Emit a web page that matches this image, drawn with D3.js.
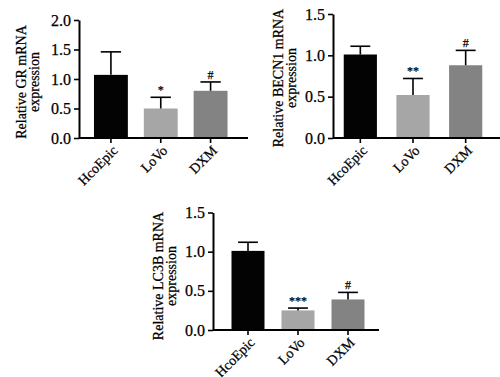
<!DOCTYPE html>
<html>
<head>
<meta charset="utf-8">
<script src="https://cdn.jsdelivr.net/npm/d3@7"></script>
<style>
  body { margin: 0; background: #fff; }
  svg { display: block; }
  text { font-family: 'Liberation Serif', 'Times New Roman', serif; fill: #000; stroke: #000; stroke-width: 0.25px; }
</style>
</head>
<body>
<svg id="chart" width="500" height="377"></svg>
<script>
const groups = ['HcoEpic', 'LoVo', 'DXM']
const barColors = ['#030303', '#a6a6a6', '#838383']

const grMean = [1.07, 0.50, 0.80]
const grErr = [0.39, 0.19, 0.15]
const grMarks = ['', '*', '#']
const grTicks = [0, 0.5, 1.0, 1.5, 2.0]

const becn1Mean = [1.01, 0.52, 0.88]
const becn1Err = [0.10, 0.20, 0.18]
const becn1Marks = ['', '**', '#']
const becn1Ticks = [0, 0.5, 1.0, 1.5]

const lc3bMean = [1.01, 0.25, 0.39]
const lc3bErr = [0.11, 0.03, 0.09]
const lc3bMarks = ['', '***', '#']
const lc3bTicks = [0, 0.5, 1.0, 1.5]

const svg = d3.select('#chart')

function panel (gene, mean, err, marks, ticks, layout) {
  const g = svg.append('g')
  const yScale = d3.scaleLinear().domain([0, d3.max(ticks)]).range([layout.base, layout.top])
  const xScale = d3.scaleBand().domain(groups).range(layout.band)
    .paddingInner(layout.pad).paddingOuter(layout.pad / 2)

  const bw = xScale.bandwidth()
  const data = groups.map((k, i) => ({ k, v: mean[i], e: err[i], m: marks[i], c: barColors[i] }))

  // bars
  g.selectAll('rect.bar').data(data).join('rect').attr('class', 'bar')
    .attr('x', d => xScale(d.k)).attr('width', bw)
    .attr('y', d => yScale(d.v)).attr('height', d => yScale(0) - yScale(d.v))
    .attr('fill', d => d.c)

  // upper error bars
  const cx = d => xScale(d.k) + bw / 2
  g.selectAll('line.err').data(data).join('line').attr('class', 'err')
    .attr('x1', cx).attr('x2', cx)
    .attr('y1', d => yScale(d.v)).attr('y2', d => yScale(d.v + d.e))
    .attr('stroke', '#000').attr('stroke-width', 1.6)
  g.selectAll('line.cap').data(data).join('line').attr('class', 'cap')
    .attr('x1', d => cx(d) - bw * 0.3).attr('x2', d => cx(d) + bw * 0.3)
    .attr('y1', d => yScale(d.v + d.e)).attr('y2', d => yScale(d.v + d.e))
    .attr('stroke', '#000').attr('stroke-width', 1.6)

  // significance marks
  g.selectAll('text.mark').data(data.filter(d => d.m)).join('text').attr('class', 'mark')
    .attr('x', cx).attr('y', d => yScale(d.v + d.e) - 3)
    .attr('text-anchor', 'middle').style('font-size', '12px')
    .text(d => d.m)

  // y axis
  const yAxis = g.append('g').attr('transform', `translate(${layout.ax},0)`)
    .call(d3.axisLeft(yScale).tickValues(ticks).tickFormat(d3.format('.1f')).tickSize(5).tickPadding(3).tickSizeOuter(0))
  yAxis.selectAll('text').style('font-size', '16px')
  yAxis.select('.domain').attr('stroke-width', 2)
  yAxis.selectAll('.tick line').attr('stroke-width', 1.6)

  // x axis
  const xAxis = g.append('g').attr('transform', `translate(0,${layout.base})`)
  xAxis.append('line').attr('x1', layout.ax).attr('x2', layout.axEnd)
    .attr('stroke', '#000').attr('stroke-width', 2)
  xAxis.selectAll('line.tick').data(groups).join('line').attr('class', 'tick')
    .attr('x1', d => xScale(d) + bw / 2).attr('x2', d => xScale(d) + bw / 2)
    .attr('y1', 0).attr('y2', 5).attr('stroke', '#000').attr('stroke-width', 1.6)
  xAxis.selectAll('text').data(groups).join('text')
    .attr('transform', d => `translate(${xScale(d) + bw / 2 + 4},${10}) rotate(-45)`)
    .attr('text-anchor', 'end').attr('dy', '0.35em')
    .style('font-size', '14px')
    .text(d => d)

  // y label
  const label = g.append('text')
    .attr('transform', `translate(${layout.labelX},${layout.labelY}) rotate(-90)`)
    .attr('text-anchor', 'middle').style('font-size', '14px')
  label.append('tspan').attr('x', 0).text(`Relative ${gene} mRNA`)
  label.append('tspan').attr('x', 0).attr('dy', 13).text('expression')
}

panel('GR', grMean, grErr, grMarks, grTicks,
  { ax: 79, axEnd: 248, top: 20, base: 138, band: [86, 235.5], pad: 0.32, labelX: 26, labelY: 82 })
panel('BECN1', becn1Mean, becn1Err, becn1Marks, becn1Ticks,
  { ax: 333, axEnd: 500, top: 14, base: 138, band: [334, 492], pad: 0.37, labelX: 283, labelY: 78 })
panel('LC3B', lc3bMean, lc3bErr, lc3bMarks, lc3bTicks,
  { ax: 213, axEnd: 379, top: 212.5, base: 330, band: [223, 373], pad: 0.34, labelX: 163, labelY: 276 })
</script>
</body>
</html>
